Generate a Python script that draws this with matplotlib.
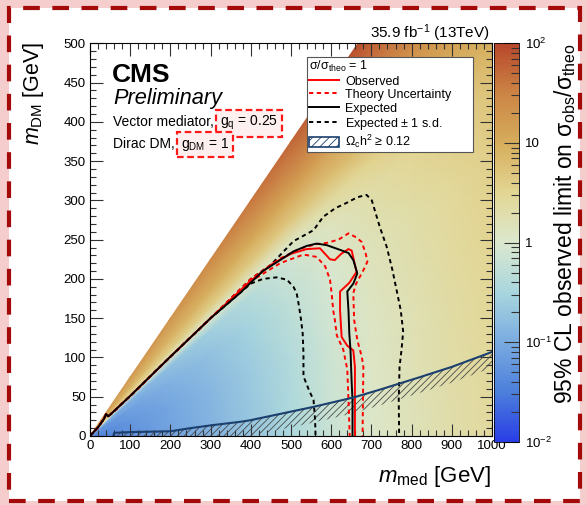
import numpy as np
import matplotlib
matplotlib.use("Agg")
import matplotlib.pyplot as plt
from matplotlib.colors import LinearSegmentedColormap, LogNorm
from matplotlib.ticker import MultipleLocator, FixedLocator, FixedFormatter, LogLocator, NullFormatter
from matplotlib.lines import Line2D
from matplotlib.patches import Patch, Rectangle

plt.rcParams['font.family'] = ['Liberation Sans', 'DejaVu Sans']
plt.rcParams['mathtext.fontset'] = 'custom'
plt.rcParams['mathtext.rm'] = 'Liberation Sans'
plt.rcParams['mathtext.it'] = 'Liberation Sans:italic'
plt.rcParams['mathtext.bf'] = 'Liberation Sans:bold'
plt.rcParams['hatch.linewidth'] = 0.6

# ---------------- data ----------------
# colour map of observed limit: nodes in m_med and in ratio r = m_DM / m_med
mmed_nodes = [0, 100, 200, 300, 400, 500, 600, 700, 800, 900, 1000]
ratio_nodes = [0.0, 0.2, 0.35, 0.45, 0.5, 0.55, 0.62, 0.75]
limit_r000 = [0.03, 0.05, 0.08, 0.12, 0.2, 0.35, 0.65, 1.1, 1.5, 2.0, 2.6]
limit_r020 = [0.04, 0.06, 0.09, 0.14, 0.23, 0.4, 0.75, 1.2, 1.7, 2.3, 3.0]
limit_r035 = [0.05, 0.08, 0.12, 0.18, 0.3, 0.55, 0.95, 1.5, 2.1, 2.8, 3.7]
limit_r045 = [0.1, 0.12, 0.18, 0.28, 0.45, 0.8, 1.4, 2.2, 3.1, 4.2, 5.6]
limit_r050 = [0.6, 0.8, 1.0, 1.1, 1.2, 1.5, 2.4, 3.5, 4.8, 6.8, 9.5]
limit_r055 = [3.0, 3.5, 4.0, 4.0, 4.5, 5.0, 6.0, 8.0, 10.0, 13.0, 16.0]
limit_r062 = [8, 8, 8, 9, 11, 13, 16, 20, 25, 30, 35]
limit_r075 = [18, 18, 20, 28, 40, 55, 75, 90, 100, 100, 100]

diag_m = [0, 20, 35, 40, 45, 50, 100, 200, 300]
diag_d = [0, 11, 22, 28, 25, 27, 51, 101, 150]

obs_m = diag_m + [400, 456, 500, 539, 572, 597, 609, 625, 643, 651, 663, 645, 622, 622, 626, 640, 655, 659, 659, 659]
obs_d = diag_d + [198, 220, 232, 238, 239, 225, 224, 232, 238, 236, 209, 195, 184, 160, 126, 115, 109, 88, 40, 0]

theo_up_m = diag_m + [400, 473, 520, 560, 590, 618, 643, 662, 676, 686, 690, 680, 662, 655, 657, 665, 676, 680, 679, 678]
theo_up_d = diag_d + [200, 226, 238, 244, 246, 250, 258, 253, 247, 232, 222, 211, 194, 182, 148, 122, 101, 88, 46, 0]

theo_dn_m = diag_m + [400, 473, 531, 564, 585, 597, 601, 605, 609, 614, 630, 640, 643, 646]
theo_dn_d = diag_d + [197, 220, 231, 228, 216, 199, 182, 160, 148, 128, 110, 85, 46, 0]

exp_m = diag_m + [373, 430, 473, 506, 539, 564, 589, 622, 643, 655, 665, 655, 640, 643, 645, 648, 651, 653, 653]
exp_d = diag_d + [182, 210, 224, 235, 242, 245, 243, 237, 233, 224, 207, 194, 184, 160, 131, 109, 67, 46, 0]

exp_up_m = diag_m + [350, 400, 450, 506, 556, 580, 610, 639, 665, 688, 701, 721, 738, 752, 763, 773, 779, 775, 770, 768, 769]
exp_up_d = diag_d + [175, 200, 218, 248, 262, 279, 290, 297, 304, 307, 300, 266, 241, 212, 185, 160, 133, 110, 88, 46, 0]

exp_dn_m = diag_m + [350, 400, 430, 464, 490, 506, 514, 520, 525, 529, 531, 531, 545, 556, 560, 561]
exp_dn_d = diag_d + [172, 194, 200, 202, 199, 190, 182, 165, 148, 131, 105, 76, 58, 46, 20, 0]

relic_m = [58, 60, 100, 200, 250, 307, 373, 398, 555, 655, 721, 821, 900, 1000]
relic_d = [0, 4, 5, 6, 10, 14, 18, 20, 37, 49, 59, 75, 88, 107]

cbar_ticks = [0.01, 0.1, 1, 10, 100]
cbar_labels = ['$10^{-2}$', '$10^{-1}$', '1', '10', '$10^{2}$']

# ---------------- figure ----------------
W, H = 587, 505
fig = plt.figure(figsize=(W / 100, H / 100), dpi=100)
fig.patch.set_facecolor('#f5cdcd')

def fx(px):
    return px / W

def fy(py):
    return 1 - py / H

frame = Rectangle((fx(9), fy(500.5)), fx(580) - fx(9), fy(7.5) - fy(500.5),
                  transform=fig.transFigure, facecolor='white', edgecolor='#a50a0a',
                  linewidth=3.0, linestyle=(0, (4, 3)), zorder=-10)
fig.add_artist(frame)

ax_l, ax_r, ax_t, ax_b = 90, 492, 43.3, 436
ax = fig.add_axes([fx(ax_l), fy(ax_b), fx(ax_r) - fx(ax_l), fy(ax_t) - fy(ax_b)])

cmap = LinearSegmentedColormap.from_list('temp', [
    (0.0, (0.16, 0.24, 0.90)),
    (0.125, (0.30, 0.50, 0.86)),
    (0.25, (0.48, 0.67, 0.88)),
    (0.375, (0.66, 0.84, 0.87)),
    (0.5, (0.86, 0.91, 0.81)),
    (0.625, (0.89, 0.84, 0.58)),
    (0.75, (0.84, 0.68, 0.36)),
    (0.875, (0.80, 0.52, 0.27)),
    (1.0, (0.72, 0.28, 0.17)),
])
norm = LogNorm(vmin=0.01, vmax=100)

Z = np.array([limit_r000, limit_r020, limit_r035, limit_r045, limit_r050,
              limit_r055, limit_r062, limit_r075])
M, R = np.meshgrid(np.array(mmed_nodes, float), np.array(ratio_nodes))
Y = M * R
mesh = ax.pcolormesh(M, Y, Z, shading='gouraud', cmap=cmap, norm=norm, zorder=1)

lw = 1.4
dash = (0, (2.2, 1.8))
ax.plot(exp_up_m, exp_up_d, color='black', lw=lw, ls=dash, zorder=4)
ax.plot(exp_dn_m, exp_dn_d, color='black', lw=lw, ls=dash, zorder=4)
ax.plot(theo_up_m, theo_up_d, color='#ff0000', lw=lw, ls=dash, zorder=5)
ax.plot(theo_dn_m, theo_dn_d, color='#ff0000', lw=lw, ls=dash, zorder=5)
ax.plot(obs_m, obs_d, color='#ff0000', lw=lw, zorder=6)
ax.plot(exp_m, exp_d, color='black', lw=lw, zorder=7)

relic_low = np.clip(np.array(relic_d, float) - 20, 0, None)
ax.fill_between(relic_m, relic_low, relic_d, facecolor='none', edgecolor='#4a4a4a',
                hatch='/////', linewidth=0, zorder=3)
ax.plot(relic_m, relic_d, color='#1b3f6e', lw=1.5, zorder=8)

ax.set_xlim(0, 1000)
ax.set_ylim(0, 500)
ax.xaxis.set_major_locator(MultipleLocator(100))
ax.xaxis.set_minor_locator(MultipleLocator(20))
ax.yaxis.set_major_locator(MultipleLocator(50))
ax.yaxis.set_minor_locator(MultipleLocator(10))
ax.tick_params(which='both', direction='in', top=True, right=True, labelsize=9.5,
               width=0.8, color='#333333', zorder=10)
ax.tick_params(which='major', length=9, pad=3)
ax.tick_params(which='minor', length=4.5)
for s in ax.spines.values():
    s.set_linewidth(0.8)
    s.set_zorder(10)

# legend
handles = [
    Line2D([], [], color='#ff0000', lw=lw),
    Line2D([], [], color='#ff0000', lw=lw, ls=dash),
    Line2D([], [], color='black', lw=lw),
    Line2D([], [], color='black', lw=lw, ls=dash),
    Patch(facecolor='white', edgecolor='#1b3f6e', hatch='////', linewidth=1.2),
]
labels = ['Observed', 'Theory Uncertainty', 'Expected', 'Expected $\\pm$ 1 s.d.',
          'Ω$_{\\mathrm{c}}$h$^{2}$ ≥ 0.12']
lx0 = (307 - ax_l) / (ax_r - ax_l)
lx1 = (473 - ax_l) / (ax_r - ax_l)
ly1 = (ax_b - 57) / (ax_b - ax_t)
ly0 = (ax_b - 151) / (ax_b - ax_t)
leg = ax.legend(handles, labels, title='σ/σ$_{\\mathrm{theo}}$ = 1', loc='upper left',
                bbox_to_anchor=(lx0, ly0, lx1 - lx0, ly1 - ly0), mode='expand',
                bbox_transform=ax.transAxes, frameon=True, fancybox=False,
                edgecolor='#555555', framealpha=1, fontsize=9, title_fontsize=9,
                alignment='left', borderpad=0.15, labelspacing=0.1, handlelength=2.4,
                handleheight=0.85, handletextpad=0.5, borderaxespad=0)
leg.get_frame().set_linewidth(0.8)
leg.set_zorder(20)

# colour bar
cax = fig.add_axes([fx(494), fy(442), fx(519) - fx(494), fy(43.3) - fy(442)])
cb = fig.colorbar(mesh, cax=cax)
cb.outline.set_linewidth(0.6)
cax.yaxis.set_major_locator(FixedLocator(cbar_ticks))
cax.yaxis.set_major_formatter(FixedFormatter(cbar_labels))
cax.yaxis.set_minor_locator(LogLocator(base=10, subs=np.arange(2, 10)))
cax.yaxis.set_minor_formatter(NullFormatter())
cax.tick_params(which='both', direction='in', right=True, left=False, labelsize=9.5,
                width=0.8, color='#333333')
cax.tick_params(which='major', length=11, pad=4)
cax.tick_params(which='minor', length=5.5)

# texts
fig.text(fx(34), fy(42), r'$m_{\mathrm{DM}}$ [GeV]', rotation=90, ha='center', va='top', size=15.5)
fig.text(fx(491), fy(482), r'$m_{\mathrm{med}}$ [GeV]', ha='right', va='baseline', size=16)
fig.text(fx(565), fy(43), '95% CL observed limit on σ$_{\\mathrm{obs}}$/σ$_{\\mathrm{theo}}$',
         rotation=90, ha='center', va='top', size=16.5)
fig.text(fx(490), fy(38), '35.9 fb$^{-1}$ (13TeV)', ha='right', va='baseline', size=11)
fig.text(fx(112), fy(82), 'CMS', weight='bold', size=19, va='baseline')
fig.text(fx(113), fy(104), 'Preliminary', style='italic', size=15.7, va='baseline')

fig.canvas.draw()
renderer = fig.canvas.get_renderer()
box_style = dict(boxstyle='square,pad=0.3', facecolor='#fff0f0', edgecolor='#ff1a1a',
                 linewidth=1.6, linestyle=(0, (3, 1.6)))
for base, boxed, py in [('Vector mediator,', r'$\mathrm{g}_{\mathrm{q}}$ = 0.25', 126),
                        ('Dirac DM,', r'$\mathrm{g}_{\mathrm{DM}}$ = 1', 148)]:
    t = fig.text(fx(113), fy(py), base, size=10, va='baseline')
    ext = t.get_window_extent(renderer)
    fig.text(ext.x1 / W + fx(6), fy(py), boxed, size=10, va='baseline', bbox=box_style)

fig.savefig('out.png', dpi=100, facecolor=fig.get_facecolor())
